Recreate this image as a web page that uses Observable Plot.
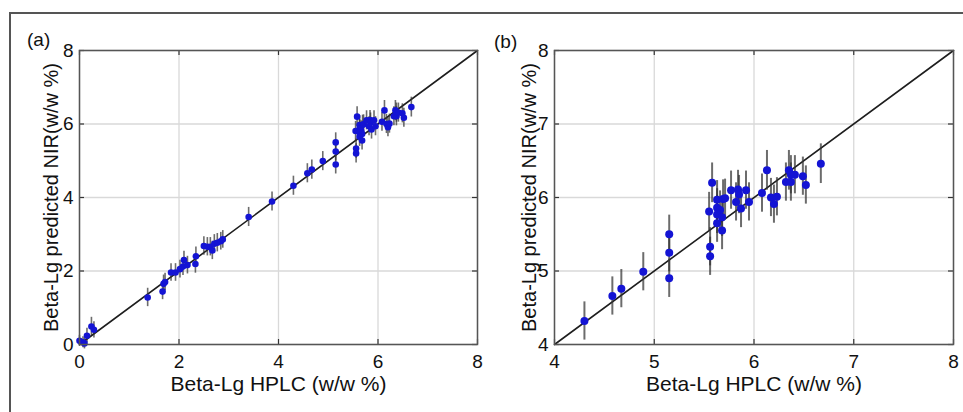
<!DOCTYPE html>
<html><head><meta charset="utf-8">
<script src="https://cdn.jsdelivr.net/npm/d3@7"></script>
<script src="https://cdn.jsdelivr.net/npm/@observablehq/plot@0.6"></script>
<style>
body{margin:0;background:#fff;}
#fig{position:relative;width:963px;height:412px;overflow:hidden;font-family:"Liberation Sans",Arial,sans-serif;}
#frame{position:absolute;left:9px;top:12px;width:960px;height:410px;border-left:2px solid #555;border-top:2px solid #555;}
.panel{position:absolute;top:0;}
.tag{position:absolute;font-size:19px;line-height:19px;color:#111;}
</style></head><body>
<div id="fig">
<div id="frame"></div>
<div id="pa" class="panel" style="left:0px"></div>
<div id="pb" class="panel" style="left:481px"></div>
<div class="tag" style="left:27px;top:30px">(a)</div>
<div class="tag" style="left:494px;top:32px">(b)</div>
</div>
<script>
// Reference HPLC values (x), NIR predicted values (y), error bar half-lengths
const hplc = [0.00, 0.07, 0.10, 0.15, 0.24, 0.29, 1.37, 1.67, 1.69, 1.72, 1.84, 1.93, 2.02, 2.08, 2.10, 2.17, 2.33, 2.34, 2.50, 2.57, 2.63, 2.67, 2.71, 2.77, 2.84, 2.88, 3.40, 3.87,
  4.30, 4.58, 4.67, 4.89, 5.15, 5.15, 5.15, 5.55, 5.56, 5.56, 5.58, 5.63, 5.69, 5.71, 5.63, 5.66, 5.63, 5.68, 5.63, 5.68, 5.77, 5.84, 5.85, 5.82, 5.87, 5.92, 5.95, 6.08, 6.13, 6.17, 6.20, 6.23, 6.32, 6.35, 6.37, 6.37, 6.41, 6.49, 6.52, 6.67];
const nir = [0.10, 0.06, 0.03, 0.24, 0.49, 0.40, 1.28, 1.44, 1.65, 1.70, 1.96, 1.96, 2.05, 2.12, 2.30, 2.16, 2.19, 2.40, 2.68, 2.66, 2.66, 2.56, 2.74, 2.77, 2.81, 2.86, 3.47, 3.89,
  4.32, 4.66, 4.76, 4.99, 5.50, 5.25, 4.90, 5.81, 5.33, 5.20, 6.20, 5.97, 5.98, 5.99, 5.86, 5.83, 5.77, 5.73, 5.65, 5.55, 6.10, 6.11, 6.04, 5.94, 5.85, 6.10, 5.94, 6.06, 6.37, 6.00, 5.91, 6.01, 6.21, 6.37, 6.21, 6.31, 6.31, 6.29, 6.17, 6.46];
const err = [0.15, 0.15, 0.15, 0.20, 0.25, 0.22, 0.25, 0.22, 0.24, 0.24, 0.24, 0.24, 0.24, 0.24, 0.24, 0.24, 0.25, 0.25, 0.25, 0.25, 0.25, 0.25, 0.25, 0.25, 0.24, 0.24, 0.26, 0.26,
  0.26, 0.26, 0.26, 0.26, 0.26, 0.26, 0.26, 0.26, 0.26, 0.26, 0.27, 0.26, 0.26, 0.26, 0.26, 0.26, 0.26, 0.26, 0.26, 0.26, 0.26, 0.26, 0.26, 0.26, 0.26, 0.26, 0.26, 0.26, 0.27, 0.26, 0.26, 0.26, 0.26, 0.27, 0.26, 0.26, 0.26, 0.26, 0.26, 0.27];

const domainA = [0, 8];
const ticksA = [0, 2, 4, 6, 8];
const domainB = [4, 8];
const ticksB = [4, 5, 6, 7, 8];
const xLabel = "Beta-Lg HPLC (w/w %)";
const yLabel = "Beta-Lg predicted NIR(w/w %)";

const data = hplc.map((x, i) => ({x, y: nir[i], e: err[i]}));

function panel({domain, ticks, ml, mr, w, r, ew, tdx}) {
  const [lo, hi] = domain;
  const pts = data.filter(d => d.x >= lo && d.x <= hi && d.y >= lo);
  const mt = 50, mb = 68, H = 412;
  const ph = H - mt - mb;
  const pw = w - ml - mr;
  const font = "'Liberation Sans', Arial, sans-serif";
  const fmt = d3.format("d");
  return Plot.plot({
    width: w, height: H,
    marginLeft: ml, marginRight: mr, marginTop: mt, marginBottom: mb,
    x: {domain, ticks},
    y: {domain, ticks},
    style: {fontFamily: font, fontSize: "19px", color: "#111", background: "transparent", overflow: "visible"},
    marks: [
      Plot.gridX(ticks, {stroke: "#d9d9d9", strokeOpacity: 1, strokeWidth: 1.3}),
      Plot.gridY(ticks, {stroke: "#d9d9d9", strokeOpacity: 1, strokeWidth: 1.3}),
      Plot.axisX(ticks, {tickSize: 0, tickPadding: 10, fontSize: 19, tickFormat: fmt, label: null}),
      Plot.axisY(ticks, {tickSize: 0, tickPadding: 6, fontSize: 19, tickFormat: fmt, label: null}),
      Plot.tickX(ticks, {x: d => d, insetTop: ph - 5, stroke: "#333", strokeWidth: 1.2}),
      Plot.tickX(ticks, {x: d => d, insetBottom: ph - 5, stroke: "#333", strokeWidth: 1.2}),
      Plot.tickY(ticks, {y: d => d, insetRight: pw - 5, stroke: "#333", strokeWidth: 1.2}),
      Plot.tickY(ticks, {y: d => d, insetLeft: pw - 5, stroke: "#333", strokeWidth: 1.2}),
      Plot.line(domain, {x: d => d, y: d => d, stroke: "#1e1e1e", strokeWidth: 1.6}),
      Plot.ruleX(pts, {x: "x", y1: d => d.y - d.e, y2: d => d.y + d.e, stroke: "#333", strokeOpacity: 0.72, strokeWidth: ew}),
      Plot.dot(pts, {x: "x", y: "y", r, fill: "#1414d4", stroke: "none"}),
      Plot.frame({stroke: "#555", strokeWidth: 1.5}),
      Plot.text([xLabel], {frameAnchor: "bottom", textAnchor: "middle", dy: 46, text: d => d, fontSize: 21, fill: "#111"}),
      Plot.text([yLabel], {frameAnchor: "left", textAnchor: "middle", dx: tdx, rotate: -90, text: d => d, fontSize: 20, fill: "#111"})
    ]
  });
}

document.getElementById("pa").append(panel({domain: domainA, ticks: ticksA, ml: 79, mr: 4, w: 481, r: 3.3, ew: 1.6, tdx: -28}));
document.getElementById("pb").append(panel({domain: domainB, ticks: ticksB, ml: 73, mr: 10, w: 482, r: 4, ew: 2, tdx: -25}));
</script>
</body></html>
